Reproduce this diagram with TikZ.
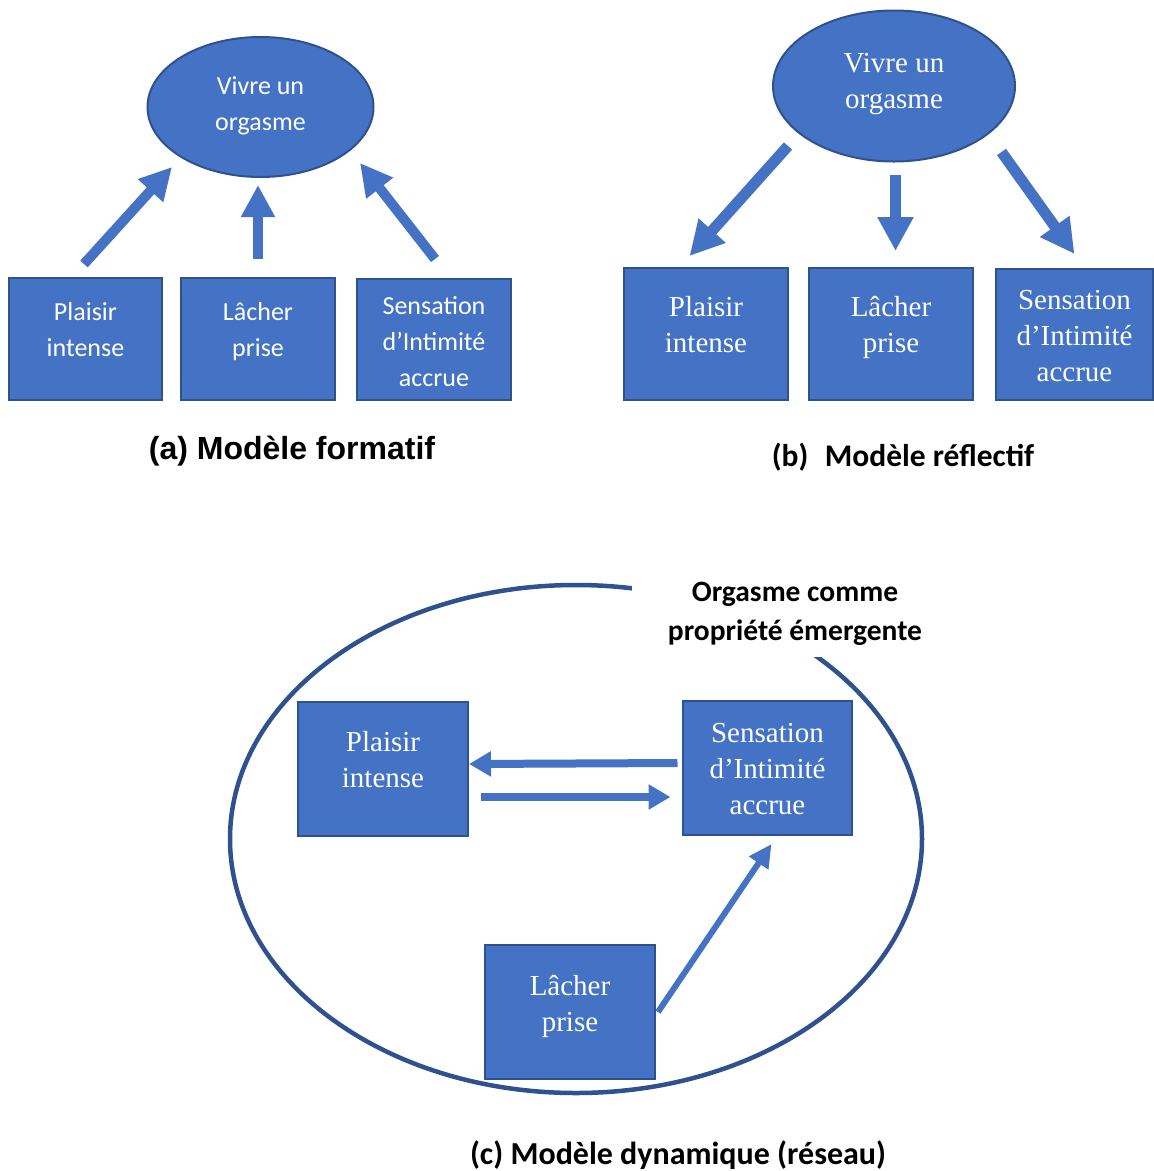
\documentclass[tikz,border=0pt]{standalone}
\usepackage{fontspec}
\usetikzlibrary{shapes.geometric,arrows.meta}
\newfontfamily\carlito{Carlito}
\newfontfamily\libserif{Liberation Serif}
\newfontfamily\libsans{Liberation Sans}
\definecolor{boxblue}{HTML}{4472C4}
\definecolor{boxline}{HTML}{2F528F}
\tikzset{
  box/.style={rectangle, draw=boxline, line width=2pt, fill=boxblue, inner sep=0pt},
  blob/.style={ellipse, draw=boxline, line width=2pt, fill=boxblue, inner sep=0pt},
  sanstxt/.style={text=white, align=center, inner sep=0pt, font=\carlito\fontsize{26}{36}\selectfont},
  seriftxt/.style={text=white, align=center, inner sep=0pt, font=\libserif\fontsize{29}{36}\selectfont},
  caption/.style={align=center, inner sep=0pt, font=\carlito\bfseries\fontsize{31.5}{38}\selectfont},
  bigup/.style={boxblue, line width=10pt, -{Triangle[width=32pt,length=32pt]}},
  bigdown/.style={boxblue, line width=11pt, -{Triangle[width=34pt,length=34pt]}},
  flow/.style={boxblue, line width=8pt, -{Triangle[width=24pt,length=22pt]}},
  thinflow/.style={boxblue, line width=6pt, -{Triangle[width=22pt,length=23pt]}},
}

\begin{document}
\begin{tikzpicture}[x=1pt,y=-1pt]
  \useasboundingbox (0,0) rectangle (1154,1171);

  % (a)
  \node [blob, minimum width=226pt, minimum height=140pt] (vivre-a) at (260.5,107) {};
  \node [sanstxt] (vivre-a-txt) at (260.5,106) {Vivre un\\orgasme};
  \node [box, minimum width=153pt, minimum height=122pt] (plaisir-a) at (85.5,339) {};
  \node [sanstxt] (plaisir-a-txt) at (85.5,330) {Plaisir\\intense};
  \node [box, minimum width=154pt, minimum height=122pt] (lacher-a) at (258,338.5) {};
  \node [sanstxt] (lacher-a-txt) at (258,332) {Lâcher\\prise};
  \node [box, minimum width=154pt, minimum height=121pt] (sensation-a) at (434,339.5) {};
  \node [sanstxt] (sensation-a-txt) at (434,342) {Sensation\\d’Intimité\\accrue};
  \draw [bigup] ([shift={(-1.5,-13)}]plaisir-a.north) to ([shift={(-88.5,60)}]vivre-a.center);
  \draw [bigup] ([shift={(0,-17.5)}]lacher-a.north) to ([shift={(-2.5,7)}]vivre-a.south);
  \draw [bigup] ([shift={(1,-19)}]sensation-a.north) to ([shift={(99.5,56)}]vivre-a.center);
  \node [inner sep=0pt, font=\libsans\bfseries\fontsize{32}{38}\selectfont] (caption-a) at (292,451) {(a) Modèle formatif};

  % (b)
  \node [blob, minimum width=242pt, minimum height=151pt] (vivre-b) at (894,86) {};
  \node [seriftxt] (vivre-b-txt) at (894,84.5) {Vivre un\\orgasme};
  \node [box, minimum width=164pt, minimum height=132pt] (plaisir-b) at (706,334) {};
  \node [seriftxt] (plaisir-b-txt) at (706,324.5) {Plaisir\\intense};
  \node [box, minimum width=164pt, minimum height=132pt] (lacher-b) at (891,334) {};
  \node [seriftxt] (lacher-b-txt) at (891,327.5) {Lâcher\\prise};
  \node [box, minimum width=157pt, minimum height=131pt] (sensation-b) at (1074.5,334.5) {};
  \node [seriftxt] (sensation-b-txt) at (1074.5,336.5) {Sensation\\d’Intimité\\accrue};
  \draw [bigdown] ([shift={(-106,60)}]vivre-b.center) to ([shift={(-16.5,-11)}]plaisir-b.north);
  \draw [bigdown] ([shift={(1.5,12.5)}]vivre-b.south) to ([shift={(4.5,-16)}]lacher-b.north);
  \draw [bigdown] ([shift={(107.5,66)}]vivre-b.center) to ([shift={(0,-14)}]sensation-b.north);
  \node [caption] (caption-b) at (903,457) {(b)\hspace{0.3em} Modèle réflectif};

  % (c)
  \node [ellipse, draw=boxline, line width=4.5pt, minimum width=692pt, minimum height=508pt] (reseau) at (576,839) {};
  \node [fill=white, inner sep=0pt, minimum width=326pt, minimum height=86pt, align=center,
         font=\carlito\bfseries\fontsize{29.5}{38.5}\selectfont] (emergent) at (795,614) {Orgasme comme\\propriété émergente};
  \node [box, minimum width=170pt, minimum height=134pt] (plaisir-c) at (383,768.5) {};
  \node [seriftxt] (plaisir-c-txt) at (383,760) {Plaisir\\intense};
  \node [box, minimum width=169pt, minimum height=134pt] (sensation-c) at (767.5,768) {};
  \node [seriftxt] (sensation-c-txt) at (767.5,769) {Sensation\\d’Intimité\\accrue};
  \node [box, minimum width=170pt, minimum height=134pt] (lacher-c) at (570,1012) {};
  \node [seriftxt] (lacher-c-txt) at (570,1006.5) {Lâcher\\prise};
  \draw [flow] ([shift={(-4.5,-5)}]sensation-c.west) to ([shift={(0,-4.5)}]plaisir-c.east);
  \draw [flow] ([shift={(12,28.5)}]plaisir-c.east) to ([shift={(-11.5,29)}]sensation-c.west);
  \draw [thinflow] ([shift={(2,0)}]lacher-c.east) to ([shift={(4,8)}]sensation-c.south);
  \node [caption, font=\carlito\bfseries\fontsize{32}{38}\selectfont] (caption-c) at (678,1155) {(c) Modèle dynamique (réseau)};
\end{tikzpicture}
\end{document}
